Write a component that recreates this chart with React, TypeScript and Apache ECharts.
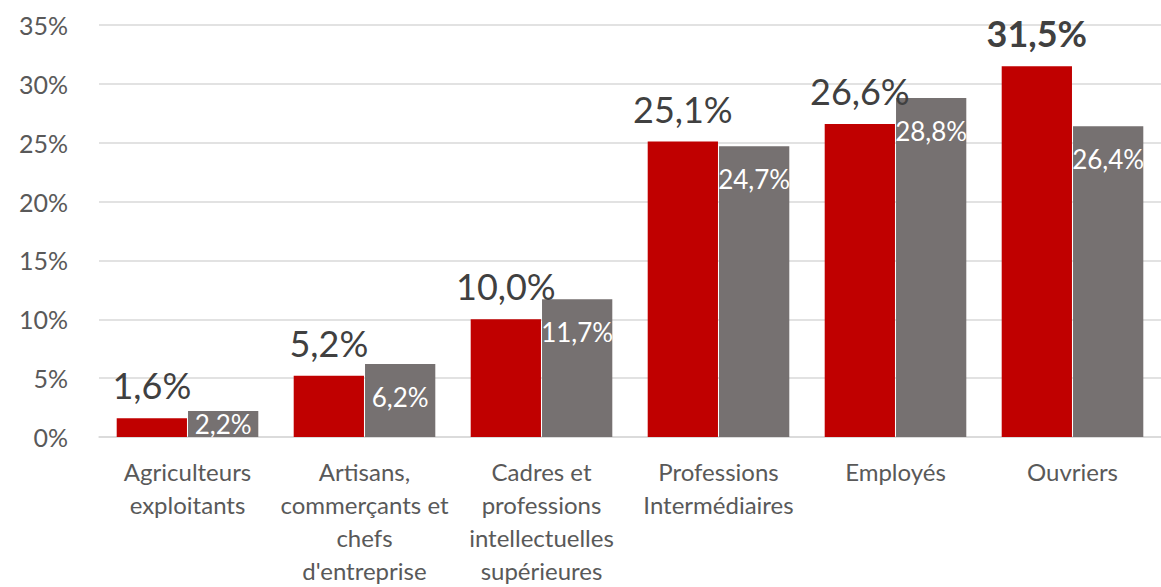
import React, { useEffect, useRef } from "react";
import * as echarts from "echarts";

const categories = [
  "Agriculteurs\nexploitants",
  "Artisans,\ncommerçants et\nchefs\nd'entreprise",
  "Cadres et\nprofessions\nintellectuelles\nsupérieures",
  "Professions\nIntermédiaires",
  "Employés",
  "Ouvriers",
];
const seriesA = [1.6, 5.2, 10.0, 25.1, 26.6, 31.5];
const seriesB = [2.2, 6.2, 11.7, 24.7, 28.8, 26.4];
const yTicks = [0, 5, 10, 15, 20, 25, 30, 35];

const FONT = "Lato, 'Open Sans', sans-serif";
const fmt = (v: number) => v.toFixed(1).replace(".", ",") + "%";

export default function App() {
  const ref = useRef<HTMLDivElement>(null);
  useEffect(() => {
    if (!ref.current) return;
    const chart = echarts.init(ref.current, undefined, { renderer: "svg" });
    const maxA = Math.max(...seriesA);
    chart.setOption({
      animation: false,
      textStyle: { fontFamily: FONT },
      grid: { left: 99, top: 25, width: 1068, height: 417.5, containLabel: false },
      xAxis: {
        type: "category",
        data: categories,
        axisLine: { show: true, lineStyle: { color: "#d9d9d9", width: 1.5 } },
        axisTick: { show: false },
        axisLabel: {
          color: "#595959",
          fontSize: 24,
          lineHeight: 33,
          margin: 18,
          interval: 0,
          fontFamily: FONT,
        },
      },
      yAxis: {
        type: "value",
        min: yTicks[0],
        max: yTicks[yTicks.length - 1],
        interval: 5,
        axisLine: { show: false },
        axisTick: { show: false },
        splitLine: { lineStyle: { color: "#d9d9d9", width: 1.5 } },
        axisLabel: {
          color: "#595959",
          fontSize: 25,
          margin: 31,
          fontFamily: FONT,
          formatter: (v: number) => v + "%",
        },
      },
      series: [
        {
          type: "bar",
          data: seriesA.map((v) =>
            v === maxA ? { value: v, label: { fontWeight: "bold" } } : { value: v }
          ),
          itemStyle: { color: "#C00000" },
          barCategoryGap: "20%",
          barGap: "1.5%",
          label: {
            show: true,
            position: "top",
            distance: 15,
            color: "#404040",
            fontSize: 36,
            fontFamily: FONT,
            formatter: (p: any) => fmt(p.value),
          },
        },
        {
          type: "bar",
          data: seriesB.map((v, i) =>
            i === 0
              ? { value: v, label: { position: "inside", distance: 0 } }
              : { value: v }
          ),
          itemStyle: { color: "#767171" },
          barCategoryGap: "20%",
          barGap: "1.5%",
          label: {
            show: true,
            position: "insideTop",
            distance: 20,
            color: "#ffffff",
            fontSize: 26,
            fontFamily: FONT,
            formatter: (p: any) => fmt(p.value),
          },
        },
      ],
    });
    return () => chart.dispose();
  }, []);
  return (
    <div
      ref={ref}
      style={{ position: "fixed", left: 0, top: 0, width: 1161, height: 587, background: "#fff" }}
    />
  );
}
